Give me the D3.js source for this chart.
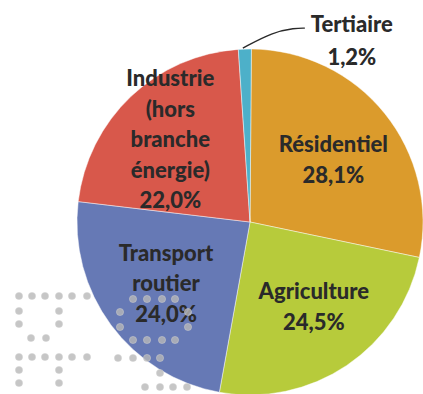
<!DOCTYPE html>
<html>
<head>
<meta charset="utf-8">
<script src="https://cdn.jsdelivr.net/npm/d3@7"></script>
<style>
  html, body { margin: 0; padding: 0; background: #fff; }
  svg { display: block; }
  text { font-family: Lato, "Open Sans", sans-serif; font-weight: 900; fill: #2a2a2a; }
</style>
</head>
<body>
<svg id="chart" width="423" height="394"></svg>
<script>
// Émissions par secteur (parts en %), dans le sens horaire depuis midi
const sectors = ["Résidentiel", "Agriculture", "Transport routier", "Industrie (hors branche énergie)", "Tertiaire"];
const shares = [28.1, 24.5, 24.0, 22.0, 1.2];
const valueLabels = ["28,1%", "24,5%", "24,0%", "22,0%", "1,2%"];
const labelLines = [
  ["Résidentiel"],
  ["Agriculture"],
  ["Transport", "routier"],
  ["Industrie", "(hors", "branche", "énergie)"],
  ["Tertiaire"]
];
const colors = ["#DB9B2C", "#B7CB3B", "#6679B5", "#D8584B", "#4DB0C9"];

const svg = d3.select("#chart");
const cx = 250, cy = 222, R = 173;
const g = svg.append("g").attr("transform", `translate(${cx},${cy})`);

const pie = d3.pie().sort(null).value(d => d).startAngle(0.008).endAngle(2 * Math.PI + 0.008);
const arcs = pie(shares);
const arc = d3.arc().innerRadius(0).outerRadius(R);
const labelArc = d3.arc().innerRadius(107).outerRadius(107);

g.selectAll("path.slice")
  .data(arcs)
  .join("path")
  .attr("class", "slice")
  .attr("d", arc)
  .attr("fill", (d, i) => colors[i])
  .attr("stroke", "rgba(255,255,255,0.45)")
  .attr("stroke-width", 1);

const lineH = 30.5;
const fontSize = 22;
// small nudges of each label block away from its slice centroid
const nudge = [[0, 5], [4, -4], [2, -2], [-6, -5]];

arcs.forEach((d, i) => {
  if (i === 4) return;
  const [x0, y0] = labelArc.centroid(d);
  const x = x0 + nudge[i][0], y = y0 + nudge[i][1];
  const lines = labelLines[i].concat([valueLabels[i]]);
  const top = y - (lines.length - 1) * lineH / 2;
  const t = g.append("text")
    .attr("text-anchor", "middle")
    .attr("font-size", fontSize);
  lines.forEach((s, k) => {
    t.append("tspan")
      .attr("x", x)
      .attr("y", top + k * lineH)
      .attr("dy", "0.35em")
      .text(s);
  });
});

// small slice: label outside with a leader line
const tert = arcs[4];
const midA = tert.startAngle + (tert.endAngle - tert.startAngle) * 0.35;
const p0 = [Math.sin(midA) * (R + 1), -Math.cos(midA) * (R + 1)];
const p1 = [p0[0] + 52, p0[1] - 20];
const p2 = [p1[0] + 10, p1[1]];
g.append("path")
  .attr("d", d3.line().curve(d3.curveBasis)([p0, [p0[0] + 30, p0[1] - 16], p1, p2]))
  .attr("fill", "none")
  .attr("stroke", "#2a2a2a")
  .attr("stroke-width", 1.4);
const tt = g.append("text").attr("text-anchor", "middle").attr("font-size", fontSize);
[labelLines[4][0], valueLabels[4]].forEach((s, k) => {
  tt.append("tspan")
    .attr("x", p2[0] + 47)
    .attr("y", p2[1] - 4 + k * 33)
    .attr("dy", "0.35em")
    .text(s);
});

// dotted publisher mark in the lower-left corner
const markRows = [
  [296, [19, 32, 45, 59, 72, 87]],
  [311, [19, 59]],
  [324, [19, 59]],
  [338, [31, 46]],
  [357, [19, 32, 45, 59, 72, 87]],
  [370, [19, 59]],
  [383, [19, 59]],
  [299, [133, 147, 162, 175]],
  [312, [120, 188]],
  [327, [120, 188]],
  [340, [133, 147, 162, 175]],
  [358, [118, 133, 147, 160]],
  [373, [160]],
  [387, [145, 160, 173, 187]]
];
const markDots = markRows.flatMap(([y, xs]) => xs.map(x => ({ x, y })));
svg.append("g")
  .selectAll("circle")
  .data(markDots)
  .join("circle")
  .attr("cx", d => d.x)
  .attr("cy", d => d.y)
  .attr("r", 3.6)
  .attr("fill", "#b8b8b8")
  .attr("fill-opacity", 0.8)
  .attr("stroke", "#d0d0d0")
  .attr("stroke-opacity", 0.6)
  .attr("stroke-width", 0.8);
</script>
</body>
</html>
